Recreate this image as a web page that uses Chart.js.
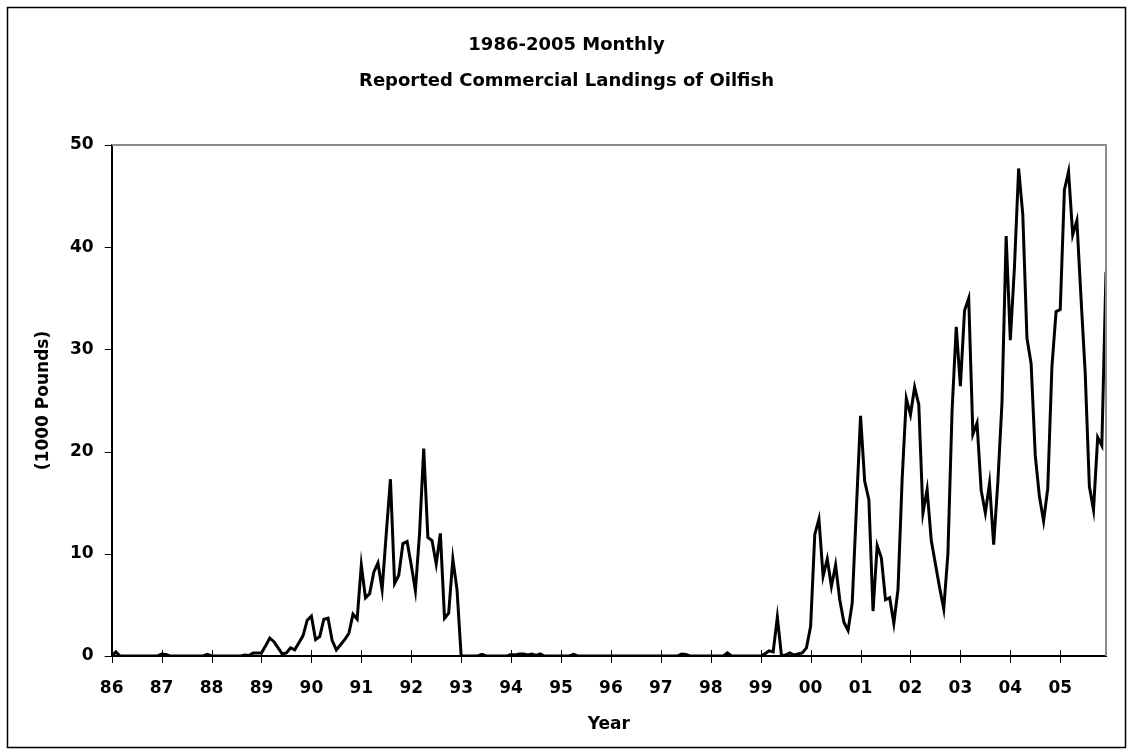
<!DOCTYPE html>
<html>
<head>
<meta charset="utf-8">
<title>Oilfish landings</title>
<script src="https://cdn.jsdelivr.net/npm/chart.js@4.4.1/dist/chart.umd.min.js"></script>
<style>
  html, body { margin: 0; padding: 0; background: #fff; }
  #wrap { position: relative; width: 1133px; height: 755px; }
</style>
</head>
<body>
<div id="wrap"><canvas id="landingsChart"></canvas></div>
<script>
// Year labels under the x axis, one per January
const yearLabels = ['86', '87', '88', '89', '90', '91', '92', '93', '94', '95',
                    '96', '97', '98', '99', '00', '01', '02', '03', '04', '05'];

// Y axis ticks (1000 pounds)
const poundTicks = [0, 10, 20, 30, 40, 50];

// Monthly landings, Jan 1986 - Dec 2005, one row per year
const monthlyLandings = [
  0, 0.4, 0, 0, 0, 0, 0, 0, 0, 0, 0, 0,                        // 86
  0.2, 0.15, 0, 0, 0, 0, 0, 0, 0, 0, 0, 0.15,                  // 87
  0, 0, 0, 0, 0, 0, 0, 0, 0.1, 0.05, 0.3, 0.3,                 // 88
  0.3, 1.0, 1.75, 1.4, 0.8, 0.2, 0.3, 0.8, 0.6, 1.3, 2.0, 3.5, // 89
  3.9, 1.6, 1.9, 3.6, 3.7, 1.5, 0.6, 1.1, 1.6, 2.2, 4.1, 3.6,  // 90
  8.9, 5.7, 6.1, 8.2, 9.1, 6.5, 12.0, 17.3, 7.1, 7.9, 11.0, 11.2, // 91
  8.9, 6.4, 12.0, 20.3, 11.6, 11.3, 9.0, 12.0, 3.7, 4.2, 9.5, 6.5, // 92
  0, 0, 0, 0, 0, 0.15, 0, 0, 0, 0, 0, 0,                       // 93
  0.15, 0.1, 0.2, 0.2, 0.1, 0.2, 0.05, 0.2, 0, 0, 0, 0,        // 94
  0, 0, 0, 0.15, 0, 0, 0, 0, 0, 0, 0, 0,                       // 95
  0, 0, 0, 0, 0, 0, 0, 0, 0, 0, 0, 0,                          // 96
  0, 0, 0, 0, 0, 0.2, 0.15, 0, 0, 0, 0, 0,                     // 97
  0, 0, 0, 0, 0.3, 0, 0, 0, 0, 0, 0, 0,                        // 98
  0, 0.2, 0.5, 0.4, 3.8, 0, 0.1, 0.3, 0.1, 0.2, 0.3, 0.8,      // 99
  2.9, 11.9, 13.4, 7.8, 9.5, 6.8, 8.9, 5.5, 3.3, 2.5, 5.2, 14.4, // 00
  23.5, 17.1, 15.3, 4.4, 10.8, 9.6, 5.5, 5.7, 3.2, 6.5, 17.3, 25.2, // 01
  23.6, 26.3, 24.6, 14.0, 16.3, 11.3, 9.0, 6.7, 4.6, 10.0, 24.0, 32.2, // 02
  26.4, 33.8, 35.0, 21.7, 22.8, 16.2, 14.0, 16.9, 10.9, 17.0, 24.8, 41.1, // 03
  30.9, 38.1, 47.7, 43.2, 31.1, 28.6, 19.6, 15.6, 13.2, 16.4, 28.3, 33.7, // 04
  33.9, 45.6, 47.4, 41.2, 42.6, 35.0, 27.7, 16.6, 14.3, 21.4, 20.6, 37.6  // 05
];

const FONT = 'DejaVu Sans';

// tick marks, plot frame and page border are drawn by hand
const frameTicks = {
  id: 'frameTicks',
  beforeDraw(chart) {
    const ctx = chart.ctx;
    ctx.save();
    ctx.fillStyle = '#fff';
    ctx.fillRect(0, 0, chart.width, chart.height);
    ctx.restore();
  },
  afterDraw(chart) {
    const ctx = chart.ctx;
    const area = chart.chartArea;
    const xs = chart.scales.x;
    const ys = chart.scales.y;
    ctx.save();

    // grey top/right edge of the plot area
    ctx.strokeStyle = '#8c8c8c';
    ctx.lineWidth = 2;
    ctx.beginPath();
    ctx.moveTo(area.left, area.top);
    ctx.lineTo(area.right, area.top);
    ctx.lineTo(area.right, area.bottom);
    ctx.stroke();

    // x ticks cross the axis, y ticks sit outside
    ctx.strokeStyle = '#000';
    ctx.lineWidth = 1;
    ctx.beginPath();
    xs.ticks.forEach(t => {
      const px = Math.round(xs.getPixelForValue(t.value)) + 0.5;
      ctx.moveTo(px, area.bottom - 6);
      ctx.lineTo(px, area.bottom + 7);
    });
    ys.ticks.forEach(t => {
      const py = Math.round(ys.getPixelForValue(t.value)) + 0.5;
      ctx.moveTo(area.left - 7, py);
      ctx.lineTo(area.left, py);
    });
    ctx.stroke();

    // outer border around the whole figure
    ctx.lineWidth = 1.5;
    ctx.strokeRect(7.5, 7.5, chart.width - 15, chart.height - 15);
    ctx.restore();
  }
};

new Chart(document.getElementById('landingsChart'), {
  type: 'line',
  data: {
    datasets: [{
      data: monthlyLandings.map((v, i) => ({ x: i, y: v })),
      borderColor: '#000',
      borderWidth: 3,
      pointRadius: 0,
      tension: 0,
      fill: false
    }]
  },
  options: {
    responsive: true,
    maintainAspectRatio: false,
    animation: false,
    layout: { padding: { top: 27, left: 27, right: 27, bottom: 10 } },
    plugins: {
      legend: { display: false },
      tooltip: { enabled: false },
      title: {
        display: true,
        text: ['1986-2005 Monthly', 'Reported Commercial Landings of Oilfish'],
        color: '#000',
        font: { family: FONT, size: 18, weight: 'bold', lineHeight: 2 },
        padding: { top: 0, bottom: 46 }
      }
    },
    scales: {
      x: {
        type: 'linear',
        min: 0,
        max: monthlyLandings.length - 1,
        afterFit: (scale) => { scale.height = 89; },
        afterBuildTicks: (scale) => {
          scale.ticks = yearLabels.map((_, k) => ({ value: k * 12 }));
        },
        grid: { display: false, tickLength: 6 },
        border: { display: true, color: '#000', width: 2 },
        ticks: {
          autoSkip: false,
          maxRotation: 0,
          padding: 16,
          color: '#000',
          font: { family: FONT, size: 17, weight: 'bold' },
          callback: (v) => yearLabels[v / 12]
        },
        title: {
          display: true,
          text: 'Year',
          color: '#000',
          font: { family: FONT, size: 17, weight: 'bold' },
          padding: { top: 0, bottom: 10 }
        }
      },
      y: {
        min: 0,
        max: 50,
        afterFit: (scale) => { scale.width = 84.7; },
        afterBuildTicks: (scale) => {
          scale.ticks = poundTicks.map(v => ({ value: v }));
        },
        grid: { display: false, tickLength: 6 },
        border: { display: true, color: '#000', width: 2 },
        ticks: {
          padding: 12,
          color: '#000',
          font: { family: FONT, size: 17, weight: 'bold' }
        },
        title: {
          display: true,
          text: '(1000 Pounds)',
          color: '#000',
          font: { family: FONT, size: 17, weight: 'bold' },
          padding: { top: 6, bottom: 0 }
        }
      }
    }
  },
  plugins: [frameTicks]
});
</script>
</body>
</html>
